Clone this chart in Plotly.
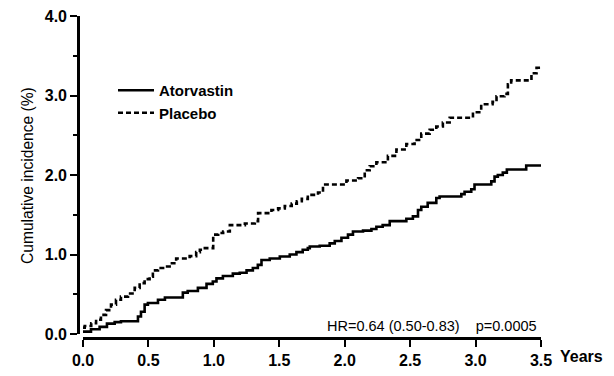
import plotly.graph_objects as go

# Atorvastin (solid) step curve: years, cumulative incidence (%)
atorva_t = [0.0, 0.061, 0.127, 0.183, 0.242, 0.29, 0.42, 0.443, 0.471, 0.496, 0.573, 0.626,
            0.763, 0.80, 0.878, 0.944, 0.992, 1.02, 1.069, 1.145, 1.198, 1.25, 1.298, 1.336,
            1.364, 1.427, 1.504, 1.58, 1.631, 1.679, 1.718, 1.733, 1.809, 1.885, 1.924, 1.975,
            2.025, 2.063, 2.14, 2.204, 2.242, 2.29, 2.344, 2.471, 2.521, 2.56, 2.585, 2.634,
            2.70, 2.725, 2.891, 2.916, 2.967, 2.992, 3.12, 3.145, 3.17, 3.208, 3.239, 3.387, 3.5]
atorva_v = [0.03, 0.06, 0.09, 0.13, 0.15, 0.16, 0.22, 0.28, 0.37, 0.39, 0.43, 0.46,
            0.52, 0.54, 0.58, 0.63, 0.66, 0.70, 0.73, 0.76, 0.77, 0.80, 0.83, 0.87,
            0.93, 0.95, 0.975, 1.0, 1.03, 1.06, 1.08, 1.10, 1.11, 1.14, 1.17, 1.21,
            1.25, 1.29, 1.30, 1.32, 1.35, 1.37, 1.42, 1.45, 1.48, 1.56, 1.60, 1.65,
            1.71, 1.73, 1.76, 1.79, 1.82, 1.88, 1.92, 1.98, 2.0, 2.03, 2.07, 2.12, 2.12]

# Placebo (dashed) step curve
placebo_t = [0.0, 0.013, 0.063, 0.10, 0.137, 0.176, 0.214, 0.252, 0.29, 0.344, 0.395, 0.433,
             0.471, 0.509, 0.534, 0.573, 0.624, 0.662, 0.712, 0.815, 0.865, 0.893, 0.931,
             0.995, 1.033, 1.071, 1.122, 1.237, 1.313, 1.338, 1.44, 1.491, 1.542, 1.595,
             1.634, 1.672, 1.718, 1.796, 1.834, 2.013, 2.102, 2.153, 2.191, 2.242, 2.33,
             2.395, 2.471, 2.534, 2.585, 2.649, 2.70, 2.75, 2.802, 2.98, 3.043, 3.13, 3.16,
             3.221, 3.247, 3.272, 3.427, 3.466, 3.5]
placebo_v = [0.08, 0.10, 0.135, 0.18, 0.24, 0.30, 0.37, 0.43, 0.47, 0.51, 0.58, 0.64,
             0.69, 0.72, 0.80, 0.83, 0.85, 0.89, 0.95, 0.98, 1.03, 1.06, 1.08,
             1.25, 1.27, 1.29, 1.37, 1.39, 1.42, 1.52, 1.56, 1.58, 1.61, 1.64,
             1.67, 1.70, 1.75, 1.78, 1.88, 1.93, 1.96, 2.06, 2.11, 2.16, 2.24,
             2.32, 2.39, 2.44, 2.52, 2.57, 2.61, 2.66, 2.72, 2.79, 2.89, 2.92, 2.99,
             3.02, 3.14, 3.19, 3.28, 3.35, 3.35]

x_ticks = [0.0, 0.5, 1.0, 1.5, 2.0, 2.5, 3.0, 3.5]
x_ticklabels = ["0.0", "0.5", "1.0", "1.5", "2.0", "2.5", "3.0", "3.5"]
y_ticks = [0, 1, 2, 3, 4]
y_ticklabels = ["0.0", "1.0", "2.0", "3.0", "4.0"]

FONT = "Liberation Sans, Arial, Helvetica, sans-serif"

fig = go.Figure()
fig.add_trace(go.Scatter(x=atorva_t, y=atorva_v, mode="lines", name="Atorvastin",
                         line=dict(color="black", width=2.6, shape="hv")))
fig.add_trace(go.Scatter(x=placebo_t, y=placebo_v, mode="lines", name="Placebo",
                         line=dict(color="black", width=2.6, shape="hv", dash="5px,3px")))

W, H = 614, 376
L, R, T, B = 78, 73, 16, 38
pw = W - L - R
ph = H - T - B

fig.update_layout(
    width=W, height=H,
    margin=dict(l=L, r=R, t=T, b=B, autoexpand=False),
    plot_bgcolor="white", paper_bgcolor="white",
    showlegend=True,
    legend=dict(x=(113 - L) / pw, y=1 - (74 - T) / ph, xanchor="left", yanchor="top",
                font=dict(family=FONT, size=15, color="black", weight="bold"),
                bgcolor="rgba(0,0,0,0)", tracegroupgap=0, itemwidth=36),
    xaxis=dict(domain=[5 / pw, 1], range=[0, 3.5], anchor="free", position=0, automargin=False,
               showline=True, linecolor="black", linewidth=2.6, showgrid=False, zeroline=False,
               tickmode="array", tickvals=x_ticks, ticktext=x_ticklabels,
               ticks="outside", ticklen=7, tickwidth=2.4, tickcolor="black",
               tickfont=dict(family=FONT, size=16, color="black", weight="bold")),
    yaxis=dict(domain=[4 / ph, 1], range=[0, 4], anchor="free", position=0, automargin=False,
               showline=True, linecolor="black", linewidth=2.6, showgrid=False, zeroline=False,
               tickmode="array", tickvals=y_ticks, ticktext=y_ticklabels,
               ticks="outside", ticklen=7, tickwidth=2.4, tickcolor="black",
               minor=dict(tickmode="linear", tick0=0.5, dtick=1, ticks="outside", ticklen=4,
                          tickwidth=2, tickcolor="black", showgrid=False),
               tickfont=dict(family=FONT, size=16, color="black", weight="bold")),
)

fig.add_annotation(text="Cumulative incidence (%)", xref="paper", yref="paper",
                   x=(27 - L) / pw, y=1 - (176 - T) / ph, textangle=-90, showarrow=False,
                   xanchor="center", yanchor="middle",
                   font=dict(family=FONT, size=15.6, color="black"))
fig.add_annotation(text="Years", xref="paper", yref="paper",
                   x=(558 - L) / pw, y=1 - (356 - T) / ph, showarrow=False,
                   xanchor="left", yanchor="middle",
                   font=dict(family=FONT, size=16, color="black", weight="bold"))
fig.add_annotation(text="HR=0.64 (0.50-0.83)&nbsp;&nbsp;&nbsp;&nbsp;p=0.0005", xref="paper", yref="paper",
                   x=(539 - L) / pw, y=1 - (326 - T) / ph, showarrow=False,
                   xanchor="right", yanchor="middle",
                   font=dict(family=FONT, size=14.5, color="black"))

fig.write_html("out.html", config={"displayModeBar": False},
               post_script="document.body.style.margin='0';document.body.style.overflow='hidden';")
